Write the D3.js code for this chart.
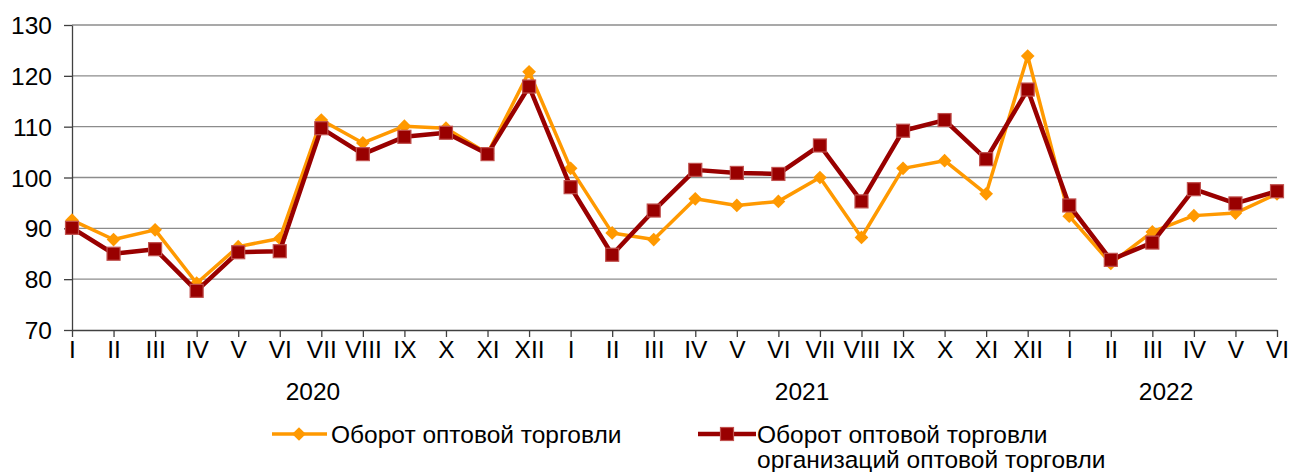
<!DOCTYPE html>
<html>
<head>
<meta charset="utf-8">
<script src="https://cdn.jsdelivr.net/npm/d3@7"></script>
<style>
    body { margin: 0; background: #fff; }
    svg { font-family: "Liberation Sans", Arial, sans-serif; }
    .grid line { stroke: #8c8c8c; stroke-width: 1.3; }
    .axis path, .axis line { stroke: #404040; stroke-width: 1.3; }
    .axis text { font-size: 24.5px; fill: #000; }
</style>
</head>
<body>
<div id="chart"></div>
<script>
(function (d3) {
    'use strict';

    var months = ['I', 'II', 'III', 'IV', 'V', 'VI', 'VII', 'VIII', 'IX', 'X', 'XI', 'XII',
                  'I', 'II', 'III', 'IV', 'V', 'VI', 'VII', 'VIII', 'IX', 'X', 'XI', 'XII',
                  'I', 'II', 'III', 'IV', 'V', 'VI'];
    var years = [{label: '2020', at: 5.8}, {label: '2021', at: 17.57}, {label: '2022', at: 26.33}];
    var yTicks = [70, 80, 90, 100, 110, 120, 130];

    // Оборот оптовой торговли
    var turnover = [91.6, 87.8, 89.7, 79.2, 86.4, 88.0, 111.3, 106.8, 110.1, 109.7, 104.7, 120.8,
                    101.8, 89.1, 87.8, 95.8, 94.5, 95.3, 100.0, 88.2, 101.8, 103.3, 96.8, 123.9,
                    92.4, 83.1, 89.3, 92.5, 93.0, 96.8];
    // Оборот оптовой торговли организаций оптовой торговли
    var turnoverOrg = [90.1, 85.0, 85.9, 77.7, 85.3, 85.5, 109.7, 104.6, 108.0, 108.8, 104.6, 117.9,
                       98.1, 84.8, 93.5, 101.5, 100.9, 100.7, 106.3, 95.3, 109.2, 111.3, 103.6, 117.3,
                       94.5, 83.8, 87.2, 97.7, 94.9, 97.3];

    var width = 1290, height = 472;
    var margin = {top: 25, right: 13, bottom: 142, left: 72};
    var w = width - margin.left - margin.right;
    var h = height - margin.top - margin.bottom;

    var svg = d3.select('#chart').append('svg')
        .attr('width', width)
        .attr('height', height)
    ;

    var g = svg.append('g').attr('transform', translate(margin.left, margin.top));

    var x = d3.scaleLinear().domain([0, months.length - 1]).range([0, w]);
    var y = d3.scaleLinear().domain([70, 130]).range([h, 0]);

    // Horizontal grid
    g.append('g')
        .attr('class', 'grid')
        .selectAll('line')
        .data(yTicks.slice(1))
        .join('line')
        .attr('x1', 0)
        .attr('x2', w)
        .attr('y1', y)
        .attr('y2', y)
    ;

    // y-axis
    var yAxis = g.append('g')
        .attr('class', 'axis')
        .call(d3.axisLeft(y).tickValues(yTicks).tickSize(8).tickSizeOuter(0).tickPadding(12))
    ;
    yAxis.selectAll('text').attr('dy', '0.35em');

    // x-axis
    var xAxis = g.append('g')
        .attr('class', 'axis')
        .attr('transform', translate(0, h))
        .call(d3.axisBottom(x)
            .tickValues(d3.range(months.length))
            .tickFormat(function (i) { return months[i]; })
            .tickSize(7)
            .tickSizeOuter(0))
    ;
    xAxis.selectAll('text').attr('y', 28).attr('dy', 0);

    g.append('g')
        .selectAll('text')
        .data(years)
        .join('text')
        .attr('x', function (d) { return x(d.at); })
        .attr('y', h + 70)
        .attr('text-anchor', 'middle')
        .style('font-size', '24.5px')
        .text(function (d) { return d.label; })
    ;

    var line = d3.line()
        .x(function (d, i) { return x(i); })
        .y(function (d) { return y(d); })
    ;

    var diamond = d3.symbol().type(d3.symbolDiamond2).size(120);

    // Orange series
    g.append('path')
        .datum(turnover)
        .attr('fill', 'none')
        .attr('stroke', '#ff9900')
        .attr('stroke-width', 3.5)
        .attr('stroke-linejoin', 'round')
        .attr('d', line)
    ;
    g.append('g')
        .selectAll('path')
        .data(turnover)
        .join('path')
        .attr('transform', function (d, i) { return translate(x(i), y(d)); })
        .attr('d', diamond)
        .attr('fill', '#ff9900')
    ;

    // Dark red series
    g.append('path')
        .datum(turnoverOrg)
        .attr('fill', 'none')
        .attr('stroke', '#990000')
        .attr('stroke-width', 4.5)
        .attr('stroke-linejoin', 'round')
        .attr('d', line)
    ;
    g.append('g')
        .selectAll('rect')
        .data(turnoverOrg)
        .join('rect')
        .attr('x', function (d, i) { return x(i) - 6.5; })
        .attr('y', function (d) { return y(d) - 6.5; })
        .attr('width', 13)
        .attr('height', 13)
        .attr('fill', '#990000')
        .attr('stroke', '#c0504d')
        .attr('stroke-width', 1.2)
    ;

    // Legend
    var legend = svg.append('g').style('font-size', '24.5px');

    var l1 = legend.append('g').attr('transform', translate(299, 434));
    l1.append('line').attr('x1', -27).attr('x2', 28).attr('stroke', '#ff9900').attr('stroke-width', 3.5);
    l1.append('path').attr('d', diamond).attr('fill', '#ff9900');
    l1.append('text').attr('x', 32).attr('y', 8.5).text('Оборот оптовой торговли');

    var l2 = legend.append('g').attr('transform', translate(727, 434));
    l2.append('line').attr('x1', -29).attr('x2', 29).attr('stroke', '#990000').attr('stroke-width', 4.5);
    l2.append('rect').attr('x', -6.5).attr('y', -6.5).attr('width', 13).attr('height', 13)
        .attr('fill', '#990000').attr('stroke', '#c0504d').attr('stroke-width', 1.2);
    l2.append('text').attr('x', 30).attr('y', 8.5).text('Оборот оптовой торговли');
    l2.append('text').attr('x', 30).attr('y', 34).text('организаций оптовой торговли');

    function translate(a, b) {
        return 'translate(' + a + ',' + b + ')';
    }
})(d3);
</script>
</body>
</html>
